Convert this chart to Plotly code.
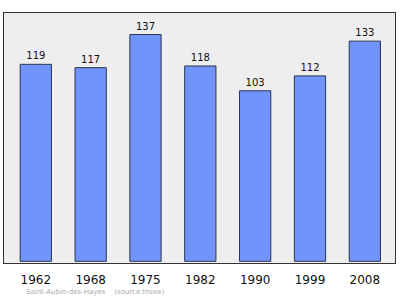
import plotly.graph_objects as go

years = ["1962", "1968", "1975", "1982", "1990", "1999", "2008"]
population = [119, 117, 137, 118, 103, 112, 133]

fig = go.Figure()
fig.add_trace(go.Bar(
    x=list(range(len(years))), y=population,
    text=[str(v) for v in population], textposition="outside",
    textfont=dict(family="DejaVu Sans", size=10, color="#111111"),
    marker=dict(color="#7094fa", line=dict(color="#2a3550", width=1)),
    width=0.57, cliponaxis=False,
))
fig.update_layout(
    width=400, height=299,
    margin=dict(l=4, r=5, t=13, b=36),
    paper_bgcolor="white", plot_bgcolor="#eeeeee",
    showlegend=False,
    xaxis=dict(range=[-0.58, 6.55], tickmode="array",
               tickvals=list(range(len(years))), ticktext=years,
               tickfont=dict(family="DejaVu Sans", size=12, color="#111111"),
               ticklabelstandoff=6,
               showgrid=False, zeroline=False, showline=True, linecolor="#333333",
               mirror=True, ticks="", fixedrange=True),
    yaxis=dict(range=[-1, 150], showticklabels=False, showgrid=False, zeroline=False,
               showline=True, linecolor="#333333", mirror=True, ticks=""),
)
fig.add_annotation(text="Saint-Aubin-des-Hayes&nbsp;&nbsp;&nbsp;&nbsp;(source:Insee)",
                   xref="paper", yref="paper", x=(24-4)/391, y=-(292-263)/250,
                   xanchor="left", yanchor="middle", showarrow=False,
                   font=dict(family="DejaVu Sans", size=7, color="#aaaaaa"))
fig.write_html("out.html")
